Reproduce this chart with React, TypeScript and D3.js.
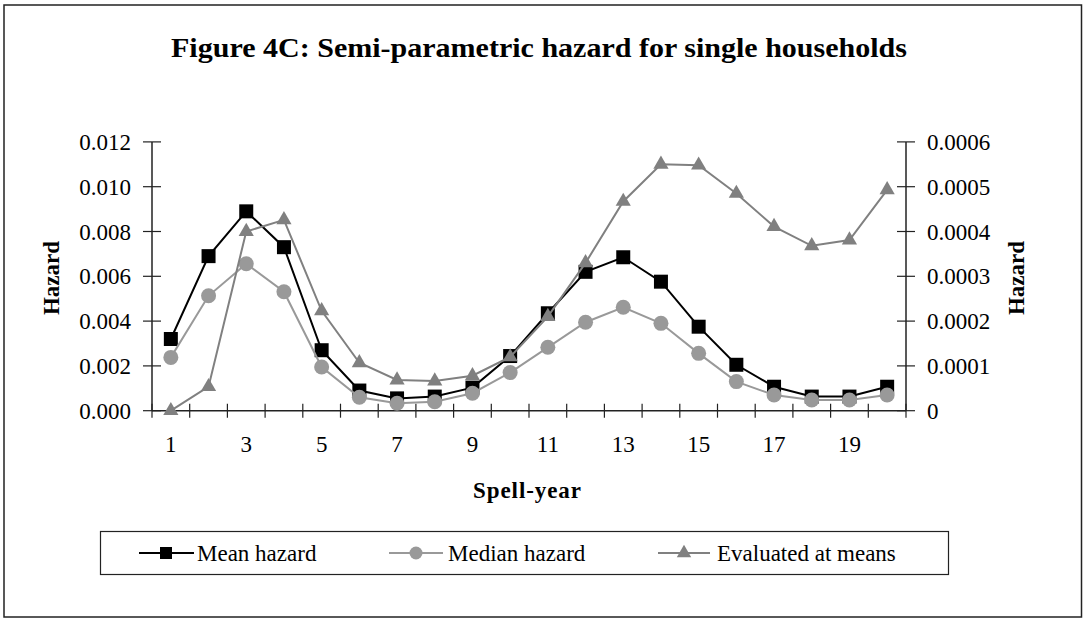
import React from "react";
import * as d3 from "d3";

// spell-years on the x axis
const categories = ["1", "2", "3", "4", "5", "6", "7", "8", "9", "10", "11", "12", "13", "14", "15", "16", "17", "18", "19", "20"];

// left axis series
const meanHazard = [0.0032, 0.0069, 0.0089, 0.0073, 0.0027, 0.0009, 0.00055, 0.00063, 0.00103, 0.00244, 0.00435, 0.0062, 0.00685, 0.00576, 0.00375, 0.00205, 0.00107, 0.00063, 0.00063, 0.00107];
const medianHazard = [0.00238, 0.00513, 0.00656, 0.00531, 0.00195, 0.0006, 0.00033, 0.0004, 0.00078, 0.0017, 0.00283, 0.00395, 0.00462, 0.0039, 0.00256, 0.0013, 0.0007, 0.00048, 0.00048, 0.0007];

// right axis series
const evaluatedAtMeans = [0, 0.0000536, 0.0004, 0.000426, 0.000223, 0.000107, 0.0000685, 0.0000663, 0.000078, 0.00012, 0.00021, 0.00033, 0.000467, 0.00055, 0.000548, 0.000485, 0.000411, 0.000368, 0.000381, 0.000493];

const leftTicks = [0, 0.002, 0.004, 0.006, 0.008, 0.01, 0.012];
const rightTicks = [0, 0.0001, 0.0002, 0.0003, 0.0004, 0.0005, 0.0006];
const rightTickLabels = ["0", "0.0001", "0.0002", "0.0003", "0.0004", "0.0005", "0.0006"];
const xTickLabels = ["1", "3", "5", "7", "9", "11", "13", "15", "17", "19"];

const FONT = "'Liberation Serif', 'Times New Roman', serif";

const App = () => {
  const W = 1083;
  const H = 618;
  const left = 152;
  const right = 906;
  const top = 141.9;
  const bottom = 410.7;

  const x = d3.scaleBand().domain(categories).range([left, right]);
  const bw = x.bandwidth();
  const cx = (i: number) => (x(categories[i]) as number) + bw / 2;
  const yL = d3.scaleLinear().domain([0, 0.012]).range([bottom, top]);
  const yR = d3.scaleLinear().domain([0, 0.0006]).range([bottom, top]);

  const lineL = d3.line<number>().x((_, i) => cx(i)).y((d) => yL(d));
  const lineR = d3.line<number>().x((_, i) => cx(i)).y((d) => yR(d));

  const square = d3.symbol(d3.symbolSquare, 196)() as string;
  const tri = d3.symbol(d3.symbolTriangle, 100)() as string;
  const squareSm = d3.symbol(d3.symbolSquare, 144)() as string;
  const triSm = d3.symbol(d3.symbolTriangle, 90)() as string;

  const boundaries = d3.range(categories.length + 1).map((i) => left + i * bw);

  const fmtL = d3.format(".3f");

  const legendY = 553;

  return (
    <svg width={W} height={H} style={{ position: "absolute", left: 0, top: 0, background: "#fff" }} fontFamily={FONT}>
      <rect x={4} y={5} width={1077.5} height={612} fill="#fff" stroke="#222" strokeWidth={1.5} />

      {/* title */}
      <text x={539} y={57} textAnchor="middle" fontSize={27} fontWeight="bold" textLength={736} lengthAdjust="spacingAndGlyphs">
        Figure 4C: Semi-parametric hazard for single households
      </text>

      {/* axes */}
      <line x1={left} x2={left} y1={top} y2={bottom} stroke="#222" strokeWidth={1.5} />
      <line x1={right} x2={right} y1={top} y2={bottom} stroke="#222" strokeWidth={1.5} />
      <line x1={left} x2={right} y1={bottom} y2={bottom} stroke="#222" strokeWidth={1.5} />

      {leftTicks.map((t) => (
        <g key={"l" + t}>
          <line x1={left - 9} x2={left + 9} y1={yL(t)} y2={yL(t)} stroke="#222" strokeWidth={1.2} />
          <text x={131} y={yL(t)} dy="0.35em" textAnchor="end" fontSize={23}>
            {fmtL(t)}
          </text>
        </g>
      ))}
      {rightTicks.map((t, i) => (
        <g key={"r" + t}>
          <line x1={right - 9} x2={right + 9} y1={yR(t)} y2={yR(t)} stroke="#222" strokeWidth={1.2} />
          <text x={927} y={yR(t)} dy="0.35em" textAnchor="start" fontSize={23}>
            {rightTickLabels[i]}
          </text>
        </g>
      ))}
      {boundaries.map((b, i) => (
        <line key={"b" + i} x1={b} x2={b} y1={bottom - 7} y2={bottom + 7} stroke="#222" strokeWidth={1.2} />
      ))}
      {xTickLabels.map((c) => (
        <text key={"x" + c} x={cx(categories.indexOf(c))} y={452} textAnchor="middle" fontSize={23}>
          {c}
        </text>
      ))}

      {/* axis titles */}
      <text x={527} y={498} textAnchor="middle" fontSize={23} fontWeight="bold" textLength={108} lengthAdjust="spacing">
        Spell-year
      </text>
      <text transform="translate(59,278) rotate(-90)" textAnchor="middle" fontSize={23} fontWeight="bold">
        Hazard
      </text>
      <text transform="translate(1024,278) rotate(-90)" textAnchor="middle" fontSize={23} fontWeight="bold">
        Hazard
      </text>

      {/* mean hazard */}
      <path d={lineL(meanHazard) as string} fill="none" stroke="#000" strokeWidth={2} />
      {meanHazard.map((v, i) => (
        <path key={"m" + i} d={square} transform={`translate(${cx(i)},${yL(v)})`} fill="#000" />
      ))}

      {/* median hazard */}
      <path d={lineL(medianHazard) as string} fill="none" stroke="#999" strokeWidth={2} />
      {medianHazard.map((v, i) => (
        <circle key={"d" + i} cx={cx(i)} cy={yL(v)} r={7.5} fill="#999" />
      ))}

      {/* evaluated at means, right axis */}
      <path d={lineR(evaluatedAtMeans) as string} fill="none" stroke="#808080" strokeWidth={2} />
      {evaluatedAtMeans.map((v, i) => (
        <path key={"e" + i} d={tri} transform={`translate(${cx(i)},${yR(v)})`} fill="#808080" />
      ))}

      {/* legend */}
      <rect x={100.5} y={531.5} width={848} height={43} fill="#fff" stroke="#222" strokeWidth={1.2} />
      <line x1={139} x2={194} y1={legendY} y2={legendY} stroke="#000" strokeWidth={2} />
      <path d={squareSm} transform={`translate(166,${legendY})`} fill="#000" />
      <text x={197} y={legendY} dy="0.35em" fontSize={23}>
        Mean hazard
      </text>
      <line x1={389} x2={443} y1={legendY} y2={legendY} stroke="#999" strokeWidth={2} />
      <circle cx={416} cy={legendY} r={6.5} fill="#999" />
      <text x={448} y={legendY} dy="0.35em" fontSize={23}>
        Median hazard
      </text>
      <line x1={658} x2={710} y1={legendY} y2={legendY} stroke="#808080" strokeWidth={2} />
      <path d={triSm} transform={`translate(684,${legendY})`} fill="#808080" />
      <text x={717} y={legendY} dy="0.35em" fontSize={23}>
        Evaluated at means
      </text>
    </svg>
  );
};

export default App;
